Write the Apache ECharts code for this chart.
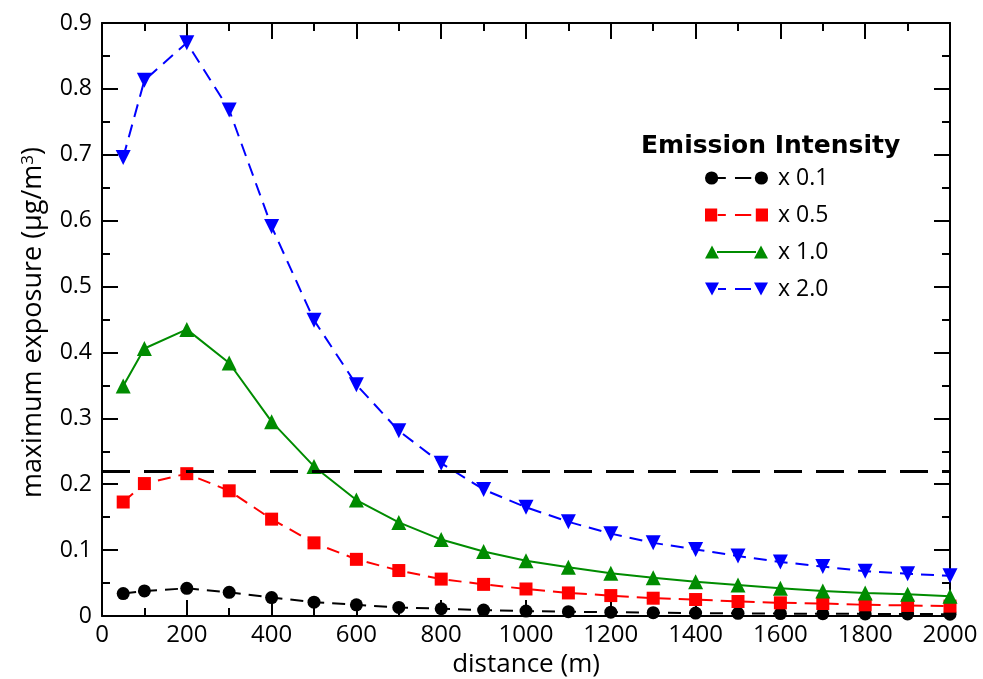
<!DOCTYPE html>
<html>
<head>
<meta charset="utf-8">
<script src="https://cdn.jsdelivr.net/npm/echarts@6/dist/echarts.min.js"></script>
<style>
html,body{margin:0;padding:0;background:#fff;}
#main{width:983px;height:679px;}
</style>
</head>
<body>
<div id="main"></div>
<script>
// distances (m)
const distance = [50,100,200,300,400,500,600,700,800,900,1000,1100,1200,1300,1400,1500,1600,1700,1800,1900,2000];
// maximum exposure (ug/m3) per emission intensity
const x0_1 = [0.034,0.038,0.042,0.036,0.028,0.021,0.017,0.013,0.011,0.009,0.0075,0.0065,0.0058,0.005,0.0045,0.004,0.0037,0.0034,0.0032,0.003,0.0028];
const x0_5 = [0.173,0.201,0.216,0.190,0.147,0.111,0.086,0.069,0.056,0.048,0.041,0.035,0.031,0.027,0.025,0.022,0.020,0.019,0.017,0.016,0.015];
const x1_0 = [0.349,0.406,0.435,0.384,0.295,0.227,0.176,0.142,0.116,0.098,0.084,0.074,0.065,0.058,0.052,0.047,0.042,0.038,0.035,0.033,0.030];
const x2_0 = [0.696,0.813,0.870,0.768,0.591,0.449,0.351,0.281,0.232,0.192,0.165,0.143,0.125,0.111,0.101,0.091,0.082,0.075,0.068,0.064,0.061];
const threshold = 0.22;
const seriesNames = ['x 0.1','x 0.5','x 1.0','x 2.0'];
const legendTitle = 'Emission Intensity';
const xName = 'distance (m)';

const pair = (ys) => distance.map((d, i) => [d, ys[i]]);

// legend icons: marker - line - marker
const seg = 'M13,6 L21,6 L21,8 L13,8 Z M30,6 L46,6 L46,8 L30,8 Z';
const solid = 'M12,6 L51,6 L51,8 L12,8 Z';
const iconCircle = 'path://M0.5,7 A6.5,6.5 0 1 1 13.5,7 A6.5,6.5 0 1 1 0.5,7 Z ' + seg + ' M49.5,7 A6.5,6.5 0 1 1 62.5,7 A6.5,6.5 0 1 1 49.5,7 Z';
const iconSquare = 'path://M0.5,0.5 L12.5,0.5 L12.5,13.5 L0.5,13.5 Z ' + seg + ' M50.5,0.5 L62.5,0.5 L62.5,13.5 L50.5,13.5 Z';
const iconUp = 'path://M0,13.5 L7,0.5 L14,13.5 Z ' + solid + ' M49,13.5 L56,0.5 L63,13.5 Z';
const iconDown = 'path://M0,0.5 L14,0.5 L7,13.5 Z ' + seg + ' M49,0.5 L63,0.5 L56,13.5 Z';

const chart = echarts.init(document.getElementById('main'), null, {renderer: 'canvas'});
const FONT = 'Open Sans';
const axisCommon = {
  axisLine: {show: true, onZero: false, lineStyle: {color: '#000', width: 2}},
  splitLine: {show: false},
  minorSplitLine: {show: false}
};
const plain = (v) => String(Math.round(v * 1000) / 1000);
chart.setOption({
  backgroundColor: '#fff',
  animation: false,
  title: {
    text: legendTitle,
    left: 641, top: 134, padding: 0,
    textStyle: {fontFamily: 'DejaVu Sans', fontWeight: 'bold', fontSize: 25, color: '#000'}
  },
  legend: {
    orient: 'vertical',
    left: 705, top: 164, padding: 0,
    itemWidth: 63, itemHeight: 14, itemGap: 9,
    data: [
      {name: seriesNames[0], icon: iconCircle},
      {name: seriesNames[1], icon: iconSquare},
      {name: seriesNames[2], icon: iconUp},
      {name: seriesNames[3], icon: iconDown}
    ],
    itemStyle: {borderWidth: 0},
    textStyle: {fontFamily: FONT, fontSize: 23, color: '#000', lineHeight: 28, padding: [0,0,0,5]}
  },
  grid: {left: 102, right: 33, top: 23, bottom: 63, containLabel: false, outerBoundsMode: 'none'},
  xAxis: [
    Object.assign({}, axisCommon, {
      type: 'value', position: 'bottom', min: 0, max: 2000, interval: 200,
      name: xName, nameLocation: 'middle', nameGap: 34,
      nameTextStyle: {fontFamily: FONT, fontSize: 26, color: '#000'},
      axisTick: {show: true, inside: true, length: 16, lineStyle: {color: '#000', width: 2}},
      minorTick: {show: true, splitNumber: 2, length: 8, lineStyle: {color: '#000', width: 2}},
      axisLabel: {fontFamily: FONT, fontSize: 24, color: '#000', margin: 7, formatter: plain}
    }),
    Object.assign({}, axisCommon, {
      type: 'value', position: 'top', min: 0, max: 2000, interval: 200,
      axisTick: {show: true, inside: true, length: 16, lineStyle: {color: '#000', width: 2}},
      minorTick: {show: true, splitNumber: 2, length: 8, lineStyle: {color: '#000', width: 2}},
      axisLabel: {show: false}
    })
  ],
  yAxis: [
    Object.assign({}, axisCommon, {
      type: 'value', position: 'left', min: 0, max: 0.9, interval: 0.1,
      name: 'maximum exposure (μg/m{sup|3})', nameLocation: 'middle', nameGap: 55,
      nameTextStyle: {fontFamily: FONT, fontSize: 27, color: '#000', padding: [0, 6, 0, 0],
        rich: {sup: {fontFamily: FONT, fontSize: 17, color: '#000', verticalAlign: 'top', padding: [0,0,10,0]}}},
      axisTick: {show: true, inside: true, length: 16, lineStyle: {color: '#000', width: 2}},
      minorTick: {show: true, splitNumber: 2, length: 8, lineStyle: {color: '#000', width: 2}},
      axisLabel: {fontFamily: FONT, fontSize: 23, color: '#000', margin: 10, formatter: plain}
    }),
    Object.assign({}, axisCommon, {
      type: 'value', position: 'right', min: 0, max: 0.9, interval: 0.1,
      axisTick: {show: true, inside: true, length: 16, lineStyle: {color: '#000', width: 2}},
      minorTick: {show: true, splitNumber: 2, length: 8, lineStyle: {color: '#000', width: 2}},
      axisLabel: {show: false}
    })
  ],
  series: [
    {
      name: seriesNames[0], type: 'line', data: pair(x0_1),
      symbol: 'circle', symbolSize: 13,
      itemStyle: {color: '#000', borderWidth: 0},
      lineStyle: {color: '#000', width: 2, type: [13, 8]},
      markLine: {
        silent: true, symbol: ['none','none'], label: {show: false},
        lineStyle: {color: '#000', width: 3, type: [28, 14]},
        data: [{yAxis: threshold}]
      },
      z: 3
    },
    {
      name: seriesNames[1], type: 'line', data: pair(x0_5),
      symbol: 'rect', symbolSize: 13,
      itemStyle: {color: '#ff0000', borderWidth: 0},
      lineStyle: {color: '#ff0000', width: 2, type: [13, 8]}
    },
    {
      name: seriesNames[2], type: 'line', data: pair(x1_0),
      symbol: 'triangle', symbolSize: 15,
      itemStyle: {color: '#008c00', borderWidth: 0},
      lineStyle: {color: '#008c00', width: 2, type: 'solid'}
    },
    {
      name: seriesNames[3], type: 'line', data: pair(x2_0),
      symbol: 'triangle', symbolRotate: 180, symbolSize: 15,
      itemStyle: {color: '#0000ff', borderWidth: 0},
      lineStyle: {color: '#0000ff', width: 2, type: [13, 8]}
    }
  ]
});
</script>
</body>
</html>
